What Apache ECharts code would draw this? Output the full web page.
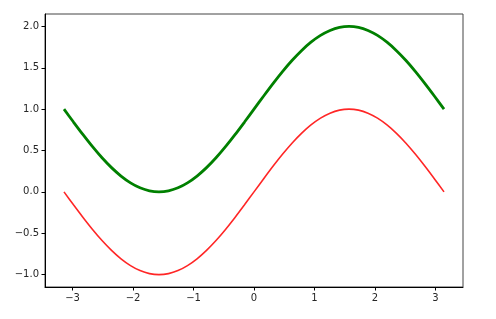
<!DOCTYPE html>
<html><head><meta charset="utf-8">
<script src="https://cdn.jsdelivr.net/npm/echarts@6/dist/echarts.min.js"></script>
<style>html,body{margin:0;padding:0;background:#fff}#c{width:496px;height:319px}</style>
</head><body><div id="c"></div>
<script>
var xs = [-3.142,-2.985,-2.827,-2.670,-2.513,-2.356,-2.199,-2.042,-1.885,-1.728,-1.571,-1.414,-1.257,-1.100,-0.942,-0.785,-0.628,-0.471,-0.314,-0.157,0,0.157,0.314,0.471,0.628,0.785,0.942,1.100,1.257,1.414,1.571,1.728,1.885,2.042,2.199,2.356,2.513,2.670,2.827,2.985,3.142];
var redY = [0,-0.156,-0.309,-0.454,-0.588,-0.707,-0.809,-0.891,-0.951,-0.988,-1,-0.988,-0.951,-0.891,-0.809,-0.707,-0.588,-0.454,-0.309,-0.156,0,0.156,0.309,0.454,0.588,0.707,0.809,0.891,0.951,0.988,1,0.988,0.951,0.891,0.809,0.707,0.588,0.454,0.309,0.156,0];
var greenY = [1,0.844,0.691,0.546,0.412,0.293,0.191,0.109,0.049,0.012,0,0.012,0.049,0.109,0.191,0.293,0.412,0.546,0.691,0.844,1,1.156,1.309,1.454,1.588,1.707,1.809,1.891,1.951,1.988,2,1.988,1.951,1.891,1.809,1.707,1.588,1.454,1.309,1.156,1];
var xTicks = [-3,-2,-1,0,1,2,3];
var yTicks = [-1,-0.5,0,0.5,1,1.5,2];

function pair(ys){ return xs.map(function(x,i){ return [x, ys[i]]; }); }
function fmtX(v){ var s = String(Math.round(v)); return s.replace('-', '\u2212'); }
function fmtY(v){ return v.toFixed(1).replace('-', '\u2212'); }

var chart = echarts.init(document.getElementById('c'), null, {renderer:'canvas'});
var axisCommon = {
  axisLine:{show:true, onZero:false, lineStyle:{color:'#000', width:1}},
  splitLine:{show:false},
  axisLabel:{color:'#262626', fontFamily:'DejaVu Sans', fontSize:10, margin:6},
  axisTick:{show:true, inside:false, length:3.5, lineStyle:{color:'#000'}}
};
chart.setOption({
  animation:false,
  grid:{left:45, top:14, right:33, bottom:32, show:true, borderColor:'#444', borderWidth:1, backgroundColor:'#fff'},
  xAxis: Object.assign({}, axisCommon, {
    type:'value', min:-3.456, max:3.456,
    axisLabel: Object.assign({}, axisCommon.axisLabel, {customValues:xTicks, formatter:fmtX}),
    axisTick: Object.assign({}, axisCommon.axisTick, {customValues:xTicks})
  }),
  yAxis: Object.assign({}, axisCommon, {
    type:'value', min:-1.15, max:2.15,
    axisLabel: Object.assign({}, axisCommon.axisLabel, {customValues:yTicks, formatter:fmtY}),
    axisTick: Object.assign({}, axisCommon.axisTick, {customValues:yTicks})
  }),
  series:[
    {type:'line', data:pair(redY), showSymbol:false, smooth:0.3, lineStyle:{color:'rgba(255,0,0,0.85)', width:1.6}},
    {type:'line', data:pair(greenY), showSymbol:false, smooth:0.3, lineStyle:{color:'#008000', width:2.8}}
  ]
});
</script></body></html>
